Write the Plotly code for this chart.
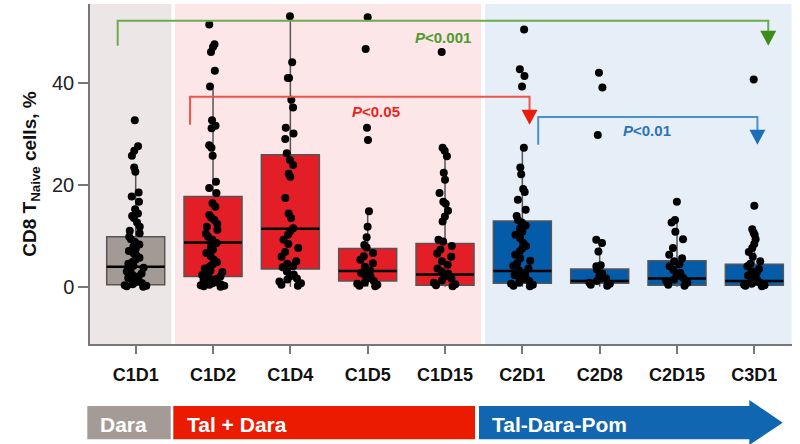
import plotly.graph_objects as go

# ---------------- data ----------------
categories = ["C1D1", "C1D2", "C1D4", "C1D5", "C1D15", "C2D1", "C2D8", "C2D15", "C3D1"]
groups = ["Dara", "Tal + Dara", "Tal + Dara", "Tal + Dara", "Tal + Dara",
          "Tal-Dara-Pom", "Tal-Dara-Pom", "Tal-Dara-Pom", "Tal-Dara-Pom"]

q1_vals = [0.4, 2.0, 3.5, 1.1, 0.3, 0.7, 0.7, 0.3, 0.3]
median_vals = [3.9, 8.7, 11.4, 3.1, 2.4, 3.1, 1.1, 1.6, 1.1]
q3_vals = [9.8, 17.7, 25.9, 7.5, 8.5, 12.9, 3.5, 5.1, 4.4]
lower_vals = [0.0, 0.0, 0.0, 0.0, 0.0, 0.0, 0.0, 0.0, 0.0]
upper_vals = [22.6, 38.8, 53.1, 14.4, 27.0, 27.4, 9.0, 13.0, 11.0]

points_C1D1 = [32.7, 27.6, 26.7, 25.7, 23.4, 22.6, 18.5, 17.7, 16.7, 15.2, 14.4, 13.9, 13.5, 12.6,
               11.8, 11.0, 10.5, 9.8, 9.3, 8.8, 8.3, 7.9, 7.4, 7.0, 6.6, 6.1, 5.7, 5.3, 4.9, 4.5,
               4.1, 3.7, 3.3, 3.0, 2.6, 2.3, 2.0, 1.7, 1.4, 1.1, 0.9, 0.7, 0.5, 0.3, 0.2, 0.1, 0.0]
points_C1D2 = [51.5, 47.6, 47.1, 46.1, 42.4, 39.3, 32.7, 31.6, 31.1, 27.8, 27.3, 25.7, 20.6, 19.4,
               18.4, 16.4, 15.7, 14.1, 13.6, 13.1, 12.3, 11.8, 11.2, 10.4, 9.8, 9.2, 8.6, 7.9, 7.3,
               6.6, 6.0, 5.3, 4.8, 4.4, 4.0, 3.6, 3.2, 2.9, 2.6, 2.3, 2.0, 1.8, 1.5, 1.3, 1.1, 0.9,
               0.7, 0.5, 0.4, 0.3, 0.2, 0.1, 0.0]
points_C1D4 = [53.1, 44.1, 41.0, 41.0, 36.7, 35.2, 31.2, 30.1, 29.0, 26.2, 24.9, 23.9, 22.2, 21.6,
               17.4, 14.4, 13.5, 11.5, 10.9, 10.2, 9.2, 8.4, 7.6, 6.8, 5.9, 5.0, 4.5, 4.0, 3.8, 3.0,
               2.4, 2.0, 1.6, 1.4, 1.0, 0.7, 0.4, 0.2]
points_C1D5 = [52.9, 46.7, 31.2, 28.8, 14.8, 11.8, 9.7, 8.2, 7.7, 6.6, 6.0, 5.3, 4.6, 3.9, 3.2,
               2.7, 2.3, 2.0, 1.6, 1.1, 0.8, 0.6, 0.4, 0.2, 0.1]
points_C1D15 = [46.1, 27.3, 26.7, 25.6, 22.4, 21.0, 18.4, 16.7, 16.3, 14.9, 13.8, 12.8, 9.2, 8.9,
                8.0, 7.3, 6.5, 5.9, 5.0, 4.3, 3.6, 3.0, 2.6, 2.0, 1.6, 1.2, 0.8, 0.5, 0.3, 0.1]
points_C2D1 = [50.5, 42.7, 41.4, 39.3, 27.3, 23.4, 22.1, 19.2, 18.6, 17.1, 15.1, 13.9, 13.1, 12.6,
               12.0, 11.5, 10.8, 10.2, 9.5, 8.6, 8.0, 7.5, 6.9, 6.3, 5.6, 5.1, 4.6, 4.1, 3.6, 3.2,
               2.7, 2.3, 2.0, 1.7, 1.4, 1.1, 0.8, 0.6, 0.4, 0.2, 0.1]
points_C2D8 = [42.0, 39.1, 29.8, 9.2, 8.6, 6.9, 4.2, 4.0, 3.4, 2.6, 2.0, 1.6, 1.1, 0.8, 0.6, 0.4, 0.2]
points_C2D15 = [16.7, 13.1, 12.6, 10.8, 9.3, 7.6, 6.3, 5.6, 5.0, 4.4, 4.0, 3.3, 2.7, 2.2, 1.7, 1.4,
                1.1, 0.8, 0.4, 0.2]
points_C3D1 = [40.7, 15.9, 11.3, 10.6, 10.2, 9.3, 8.4, 7.6, 6.8, 5.9, 5.0, 4.5, 4.0, 3.5, 3.0, 2.7,
               2.2, 1.7, 1.3, 1.0, 0.8, 0.6, 0.4, 0.3, 0.2, 0.1]
points = [points_C1D1, points_C1D2, points_C1D4, points_C1D5, points_C1D15,
          points_C2D1, points_C2D8, points_C2D15, points_C3D1]

y_ticks = [0, 20, 40]
y_title = "<b>CD8 T<sub>Naive</sub> cells, %</b>"

# comparison brackets (category index offsets) and labels
comparisons = [
    dict(i0=0, dx0=-0.233, i1=8, dx1=0.18, ytop=52.24, yend=47.3, label="P<0.001",
         lx=3.98, ly=49.0, line="#6BAA4E", head="#3C8C1C", text="#4E9A2E"),
    dict(i0=1, dx0=-0.297, i1=5, dx1=0.093, ytop=37.3, yend=31.8, label="P<0.05",
         lx=3.11, ly=34.4, line="#EE5448", head="#E81E0A", text="#E8261D"),
    dict(i0=5, dx0=0.205, i1=8, dx1=0.04, ytop=33.33, yend=27.9, label="P<0.01",
         lx=6.61, ly=30.64, line="#4B8FCB", head="#1C6EB8", text="#2C74B5"),
]

# ---------------- styling ----------------
FONT = "Liberation Sans, Arial, sans-serif"
group_fill = {"Dara": "#A39A95", "Tal + Dara": "#E31E26", "Tal-Dara-Pom": "#045BA8"}
shade_fill = {"Dara": "#ECE7E6", "Tal + Dara": "#FCE6E7", "Tal-Dara-Pom": "#E6EEF7"}
band_fill = {"Dara": "#A59B96", "Tal + Dara": "#EB1B00", "Tal-Dara-Pom": "#1066B0"}

W, H = 800, 444
ML, MR, MT, MB = 90, 8, 4, 100
PW, PH = W - ML - MR, H - MT - MB


def px_x(px):
    return (px - ML) / PW


def px_y(py):
    return (H - MB - py) / PH


fig = go.Figure()

# boxes per group
for g in ["Dara", "Tal + Dara", "Tal-Dara-Pom"]:
    idx = [i for i, gg in enumerate(groups) if gg == g]
    fig.add_trace(go.Box(
        x=[categories[i] for i in idx],
        q1=[q1_vals[i] for i in idx],
        median=[median_vals[i] for i in idx],
        q3=[q3_vals[i] for i in idx],
        lowerfence=[lower_vals[i] for i in idx],
        upperfence=[upper_vals[i] for i in idx],
        fillcolor=group_fill[g],
        line=dict(color="#555555", width=1.5),
        whiskerwidth=0,
        width=0.75,
        boxpoints=False,
        showlegend=False,
        hoverinfo="skip",
    ))

# black median lines
fig.add_trace(go.Box(
    x=categories, q1=median_vals, median=median_vals, q3=median_vals,
    lowerfence=median_vals, upperfence=median_vals,
    fillcolor="rgba(0,0,0,0)", line=dict(color="black", width=2.5),
    whiskerwidth=0, width=0.75, boxpoints=False, showlegend=False, hoverinfo="skip",
))

# jittered points
for cat, vals in zip(categories, points):
    fig.add_trace(go.Box(
        x=[cat] * len(vals), y=vals,
        boxpoints="all", jitter=0.5, pointpos=0, width=0.75,
        fillcolor="rgba(0,0,0,0)", line=dict(color="rgba(0,0,0,0)", width=0),
        marker=dict(color="black", size=8, line=dict(width=0)),
        showlegend=False,
    ))

shapes = []
# background shading in data x coordinates
shade_edges = [(-0.591, 0.462, "Dara"), (0.509, 4.467, "Tal + Dara"), (4.519, 8.48, "Tal-Dara-Pom")]
for x0, x1, g in shade_edges:
    shapes.append(dict(type="rect", xref="x", yref="paper", x0=x0, x1=x1, y0=0, y1=1,
                       fillcolor=shade_fill[g], line=dict(width=0), layer="below"))

annotations = []
for c in comparisons:
    xa = c["i0"] + c["dx0"]
    xb = c["i1"] + c["dx1"]
    shapes.append(dict(type="path", xref="x", yref="y",
                       path=f"M{xa},{c['yend']} L{xa},{c['ytop']} L{xb},{c['ytop']} L{xb},{c['yend'] + 2}",
                       line=dict(color=c["line"], width=2)))
    shapes.append(dict(type="path", xref="x", yref="y", xsizemode="pixel", ysizemode="pixel",
                       xanchor=xb, yanchor=c["yend"], path="M-8,15 L8,15 L0,0 Z",
                       fillcolor=c["head"], line=dict(width=0)))
    annotations.append(dict(x=c["lx"], y=c["ly"], xref="x", yref="y", showarrow=False,
                            text="<b><i>P</i>" + c["label"][1:].replace("<", "&lt;") + "</b>",
                            font=dict(family=FONT, size=15, color=c["text"])))

# bottom treatment band (pixel positions)
bands = [("Dara", 87.3, 170.7, 98), ("Tal + Dara", 173.3, 475, 185)]
for g, a, b, tx in bands:
    shapes.append(dict(type="rect", xref="paper", yref="paper", x0=px_x(a), x1=px_x(b),
                       y0=px_y(439.3), y1=px_y(406), fillcolor=band_fill[g], line=dict(width=0)))
    annotations.append(dict(x=px_x(tx), y=px_y(424), xref="paper", yref="paper",
                            xanchor="left", yanchor="middle", showarrow=False, text=f"<b>{g}</b>",
                            font=dict(family=FONT, size=21, color="white")))
# arrow band
ax0, ax1, atip = 479, 749.3, 782.7
yt, yb, yht, yhb, yc = 406, 439.3, 400, 445, 422.65
arrow_path = (f"M{px_x(ax0)},{px_y(yt)} L{px_x(ax1)},{px_y(yt)} L{px_x(ax1)},{px_y(yht)} "
              f"L{px_x(atip)},{px_y(yc)} L{px_x(ax1)},{px_y(yhb)} L{px_x(ax1)},{px_y(yb)} "
              f"L{px_x(ax0)},{px_y(yb)} Z")
shapes.append(dict(type="path", xref="paper", yref="paper", path=arrow_path,
                   fillcolor=band_fill["Tal-Dara-Pom"], line=dict(width=0)))
annotations.append(dict(x=px_x(490), y=px_y(424), xref="paper", yref="paper",
                        xanchor="left", yanchor="middle", showarrow=False, text="<b>Tal-Dara-Pom</b>",
                        font=dict(family=FONT, size=21, color="white")))

fig.update_layout(
    width=W, height=H,
    margin=dict(l=ML, r=MR, t=MT, b=MB, autoexpand=False),
    paper_bgcolor="white", plot_bgcolor="white",
    boxmode="overlay", showlegend=False,
    font=dict(family=FONT, color="#222222"),
    shapes=shapes, annotations=annotations,
    xaxis=dict(type="category", categoryorder="array", categoryarray=categories,
               range=[-0.591, 8.487], showgrid=False, zeroline=False, automargin=False,
               showline=True, linecolor="#777777", linewidth=1.5,
               ticks="outside", ticklen=8, tickwidth=1.5, tickcolor="#777777",
               tickfont=dict(family=FONT, size=18, color="#111111", weight="bold"),
               ticklabelstandoff=6),
    yaxis=dict(range=[-11.25, 55.52], tickvals=y_ticks, showgrid=False, zeroline=False,
               automargin=False,
               showline=True, linecolor="#777777", linewidth=1.5,
               ticks="outside", ticklen=10, tickwidth=1.5, tickcolor="#777777",
               tickfont=dict(family=FONT, size=20, color="#222222"),
               title=dict(text=y_title, font=dict(family=FONT, size=19, color="#111111"), standoff=10)),
)

fig.write_html("out.html", config={"displayModeBar": False},
               post_script="document.body.style.margin='0px';document.body.style.overflow='hidden';")
